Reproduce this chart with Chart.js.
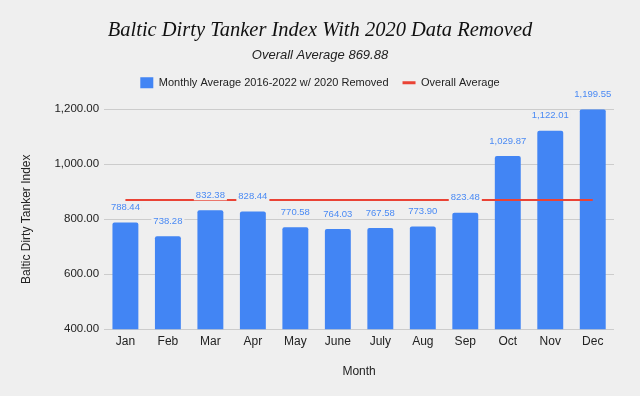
<!DOCTYPE html>
<html>
<head>
<meta charset="utf-8">
<script src="https://cdn.jsdelivr.net/npm/chart.js@4"></script>
<style>
  body { margin: 0; background: #efefef; }
  #wrap { width: 640px; height: 396px; }
</style>
</head>
<body>
<div id="wrap"><canvas id="myChart" width="640" height="396"></canvas></div>
<script>
const months = ['Jan', 'Feb', 'Mar', 'Apr', 'May', 'June', 'July', 'Aug', 'Sep', 'Oct', 'Nov', 'Dec'];
const monthlyAvg = [788.44, 738.28, 832.38, 828.44, 770.58, 764.03, 767.58, 773.90, 823.48, 1029.87, 1122.01, 1199.55];
const overallAvg = 869.88;
const avgLine = months.map(() => overallAvg);

const bgColor = '#efefef';
const sans = '"Liberation Sans", Arial, sans-serif';
const fmt = v => v.toLocaleString('en-US', { minimumFractionDigits: 2, maximumFractionDigits: 2 });

// value labels above the bars, with a background patch like the original
const barLabels = {
    id: 'barLabels',
    afterDatasetsDraw(chart) {
        const ctx = chart.ctx;
        const meta = chart.getDatasetMeta(0);
        ctx.save();
        ctx.font = '9.5px ' + sans;
        ctx.textAlign = 'center';
        ctx.textBaseline = 'middle';
        meta.data.forEach((bar, i) => {
            const txt = fmt(monthlyAvg[i]);
            const w = ctx.measureText(txt).width;
            const y = bar.y - 15;
            ctx.fillStyle = bgColor;
            ctx.fillRect(bar.x - w / 2 - 2, y - 5, w + 4, 10);
            ctx.fillStyle = '#4a8af4';
            ctx.fillText(txt, bar.x, y);
        });
        ctx.restore();
    }
};

// a bit more room under the legend
const legendGap = {
    id: 'legendGap',
    beforeInit(chart) {
        const origFit = chart.legend.fit;
        chart.legend.fit = function () {
            origFit.call(this);
            this.height += 11;
        };
    }
};

const ctx = document.getElementById('myChart');
const myChart = new Chart(ctx, {
    data: {
        labels: months,
        datasets: [{
            type: 'bar',
            label: 'Monthly Average 2016-2022 w/ 2020 Removed',
            data: monthlyAvg,
            backgroundColor: '#4285f4',
            borderRadius: 2,
            borderSkipped: 'bottom',
            categoryPercentage: 1,
            barPercentage: 0.61,
            pointStyle: 'rect',
            order: 1
        }, {
            type: 'line',
            label: 'Overall Average',
            data: avgLine,
            borderColor: '#ea4335',
            backgroundColor: '#ea4335',
            borderWidth: 2,
            pointRadius: 0,
            pointStyle: 'line',
            order: 0
        }]
    },
    options: {
        responsive: false,
        animation: false,
        layout: { padding: { top: 0, left: 15, right: 15, bottom: 10 } },
        plugins: {
            tooltip: { enabled: false },
            title: {
                display: true,
                text: 'Baltic Dirty Tanker Index With 2020 Data Removed',
                color: '#111',
                font: { family: '"Liberation Serif", "DejaVu Serif", serif', size: 20.5, style: 'italic', weight: 'normal', lineHeight: 1.2 },
                padding: { top: 18, bottom: 5 }
            },
            subtitle: {
                display: true,
                text: 'Overall Average 869.88',
                color: '#222',
                font: { family: sans, size: 13, style: 'italic', lineHeight: 1.2 },
                padding: { top: 0, bottom: 0 }
            },
            legend: {
                display: true,
                labels: {
                    color: '#222',
                    font: { family: sans, size: 11 },
                    usePointStyle: true,
                    boxHeight: 11,
                    pointStyleWidth: 13,
                    padding: 14,
                    sort: (a, b) => a.datasetIndex - b.datasetIndex,
                    generateLabels(chart) {
                        const items = Chart.defaults.plugins.legend.labels.generateLabels(chart);
                        items.forEach(it => { if (it.datasetIndex === 1) it.lineWidth = 3; });
                        return items;
                    }
                }
            }
        },
        scales: {
            x: {
                grid: { display: false, drawTicks: false },
                border: { display: false },
                ticks: {
                    color: '#222',
                    padding: 5,
                    font: { family: sans, size: 12 }
                },
                title: {
                    display: true,
                    text: 'Month',
                    color: '#222',
                    font: { family: sans, size: 12 },
                    padding: { top: 11, bottom: 7 }
                }
            },
            y: {
                min: 400,
                max: 1200,
                grid: { color: '#cccccc', drawTicks: false },
                border: { display: false },
                ticks: {
                    stepSize: 200,
                    color: '#222',
                    padding: 5,
                    font: { family: sans, size: 11.5 },
                    callback: v => fmt(v)
                },
                title: {
                    display: true,
                    text: 'Baltic Dirty Tanker Index',
                    color: '#222',
                    font: { family: sans, size: 12 },
                    padding: { top: 4, bottom: 16 }
                }
            },
            // empty strip on the right so the titles stay centred on the page
            yRight: {
                position: 'right',
                display: true,
                grid: { display: false, drawTicks: false },
                border: { display: false },
                ticks: { display: false },
                afterFit: scale => { scale.width = 11; }
            }
        }
    },
    plugins: [barLabels, legendGap]
});
</script>
</body>
</html>
